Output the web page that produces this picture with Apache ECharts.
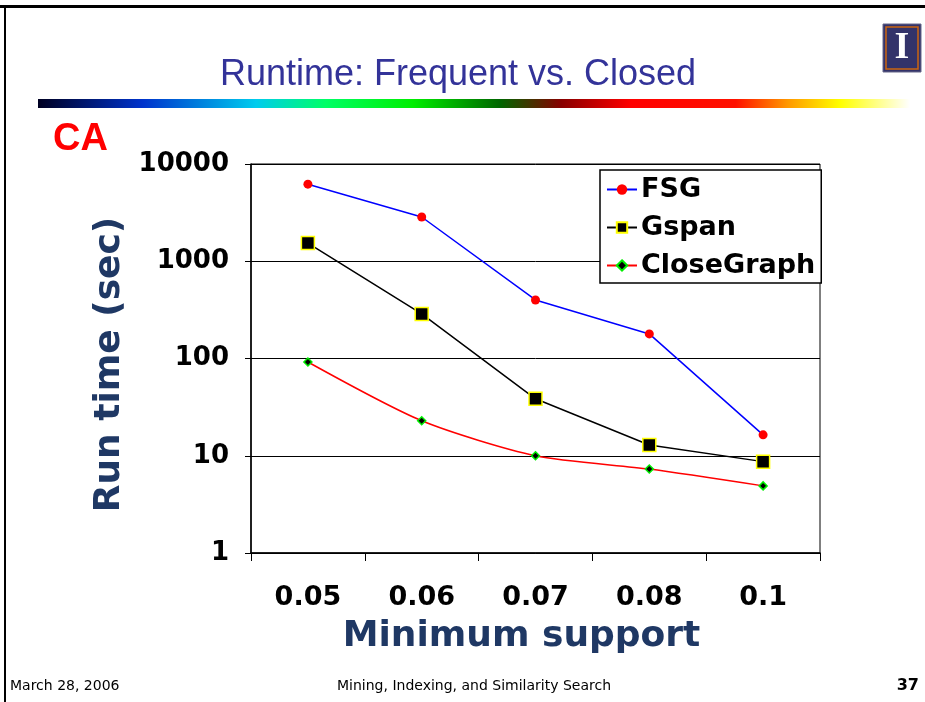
<!DOCTYPE html>
<html>
<head>
<meta charset="utf-8">
<script src="https://cdn.jsdelivr.net/npm/echarts@6/dist/echarts.min.js"></script>
<style>
  html, body { margin: 0; padding: 0; background: #fff; }
  #chart { width: 925px; height: 702px; }
</style>
</head>
<body>
<div id="chart"></div>
<script>
  // minimum support values
  var supports = ['0.05', '0.06', '0.07', '0.08', '0.1']
  // run time in seconds (log scale)
  var fsg = [6200, 2850, 400, 179, 16.4]
  var gspan = [1540, 287, 38.5, 12.9, 8.7]
  var closeGraph = [92, 22.9, 10, 7.3, 4.9]

  var bold = '"DejaVu Sans", Verdana, sans-serif'
  var footFont = '14px "DejaVu Sans", Tahoma, sans-serif'
  var chart = echarts.init(document.getElementById('chart'))

  var option = {
    backgroundColor: '#fff',
    animation: false,
    graphic: [
      // slide frame
      { type: 'rect', shape: { x: 0, y: 5, width: 925, height: 3 }, style: { fill: '#000' } },
      { type: 'rect', shape: { x: 4, y: 5, width: 2, height: 697 }, style: { fill: '#000' } },
      {
        type: 'text', x: 458, y: 75,
        style: { text: 'Runtime: Frequent vs. Closed', fill: '#333399', align: 'center', verticalAlign: 'middle',
          font: '36px "Liberation Sans Narrow", "Liberation Sans", Arial, sans-serif' }
      },
      {
        type: 'rect', shape: { x: 38, y: 99, width: 872, height: 9 },
        style: {
          fill: new echarts.graphic.LinearGradient(0, 0, 1, 0, [
            { offset: 0, color: '#000022' },
            { offset: 0.12, color: '#0033cc' },
            { offset: 0.25, color: '#00ccee' },
            { offset: 0.33, color: '#00ff66' },
            { offset: 0.43, color: '#00ee00' },
            { offset: 0.53, color: '#006600' },
            { offset: 0.6, color: '#880000' },
            { offset: 0.68, color: '#ff0000' },
            { offset: 0.8, color: '#ff1100' },
            { offset: 0.86, color: '#ff9900' },
            { offset: 0.92, color: '#ffff00' },
            { offset: 1, color: '#ffffff' }
          ])
        }
      },
      {
        type: 'text', left: 53, top: 121,
        style: { text: 'CA', fill: '#ff0000', font: 'bold 38px "Liberation Sans", Arial, sans-serif' }
      },
      // logo
      { type: 'rect', shape: { x: 883, y: 24, width: 38, height: 48 }, style: { fill: '#33336a', stroke: '#666688', lineWidth: 1 } },
      { type: 'rect', shape: { x: 886, y: 27, width: 32, height: 42 }, style: { fill: 'none', stroke: '#cc6611', lineWidth: 1.5 } },
      {
        type: 'text', x: 902, y: 48,
        style: { text: 'I', fill: '#ffffff', align: 'center', verticalAlign: 'middle',
          font: 'bold 38px "Liberation Serif", "DejaVu Serif", serif' }
      },
      // footer
      {
        type: 'text', x: 10, y: 686,
        style: { text: 'March 28, 2006', fill: '#000', verticalAlign: 'middle', font: footFont }
      },
      {
        type: 'text', x: 474, y: 686,
        style: { text: 'Mining, Indexing, and Similarity Search', fill: '#000', align: 'center', verticalAlign: 'middle',
          font: footFont }
      },
      {
        type: 'text', x: 919, y: 686,
        style: { text: '37', fill: '#000', align: 'right', verticalAlign: 'middle',
          font: 'bold 16px "DejaVu Sans", Tahoma, sans-serif' }
      }
    ],
    grid: {
      left: 251,
      right: 105,
      top: 164,
      bottom: 149,
      show: true,
      borderColor: '#000',
      borderWidth: 1
    },
    legend: {
      orient: 'vertical',
      left: 600,
      top: 170,
      padding: [6, 6, 4, 6],
      itemGap: 11,
      itemWidth: 30,
      itemHeight: 13,
      borderColor: '#000',
      borderWidth: 1.5,
      backgroundColor: '#fff',
      textStyle: { fontFamily: bold, fontWeight: 'bold', fontSize: 27, color: '#000', padding: [0, 0, 0, -1] },
      data: ['FSG', 'Gspan', 'CloseGraph']
    },
    xAxis: {
      type: 'category',
      data: supports,
      boundaryGap: true,
      name: 'Minimum support',
      nameLocation: 'middle',
      nameGap: 66,
      nameTextStyle: { fontFamily: bold, fontWeight: 'bold', fontSize: 36, color: '#1f3864', padding: [0, 28, 0, 0] },
      axisLine: { lineStyle: { color: '#000', width: 1.5 } },
      axisTick: { show: true, length: 8, lineStyle: { color: '#000' } },
      axisLabel: { fontFamily: bold, fontWeight: 'bold', fontSize: 27, color: '#000', margin: 31 },
      splitLine: { show: false }
    },
    yAxis: {
      type: 'log',
      logBase: 10,
      min: 1,
      max: 10000,
      name: 'Run time (sec)',
      nameLocation: 'middle',
      nameGap: 122,
      nameRotate: 90,
      nameTextStyle: { fontFamily: bold, fontWeight: 'bold', fontSize: 36, color: '#1f3864', padding: [0, 12, 0, 0] },
      axisLine: { show: true, lineStyle: { color: '#000', width: 1.5 } },
      axisTick: { show: true, inside: false, length: 6, lineStyle: { color: '#000' } },
      axisLabel: {
        fontFamily: bold, fontWeight: 'bold', fontSize: 26, color: '#000', margin: 22,
        formatter: function (v) { return String(v) }
      },
      splitLine: { show: true, lineStyle: { color: '#000', width: 1 } }
    },
    series: [
      {
        name: 'FSG',
        type: 'line',
        data: fsg,
        symbol: 'circle',
        symbolSize: 9,
        lineStyle: { color: '#0000ff', width: 1.5 },
        itemStyle: { color: '#ff0000', borderWidth: 0 }
      },
      {
        name: 'Gspan',
        type: 'line',
        data: gspan,
        symbol: 'rect',
        symbolSize: 13,
        lineStyle: { color: '#000', width: 1.5 },
        itemStyle: { color: '#000', borderColor: '#ffff00', borderWidth: 1.5 }
      },
      {
        name: 'CloseGraph',
        type: 'line',
        data: closeGraph,
        smooth: 0.25,
        symbol: 'diamond',
        symbolSize: 8,
        lineStyle: { color: '#ff0000', width: 1.5 },
        itemStyle: { color: '#000', borderColor: '#00ee00', borderWidth: 1.5 }
      }
    ]
  }

  chart.setOption(option)
</script>
</body>
</html>
